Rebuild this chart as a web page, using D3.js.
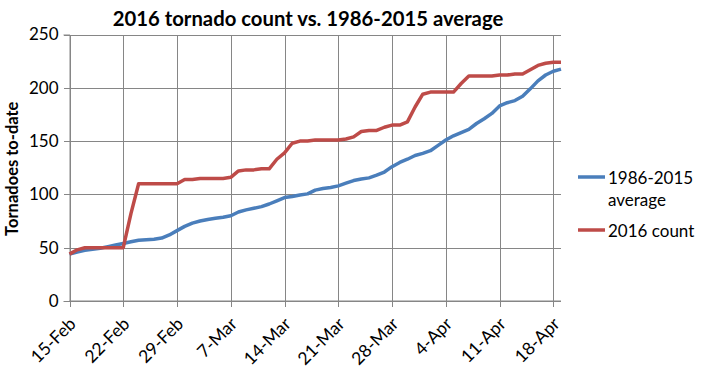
<!DOCTYPE html>
<html>
<head>
<meta charset="utf-8">
<script src="https://cdn.jsdelivr.net/npm/d3@7/dist/d3.min.js"></script>
<style>
  html, body { margin: 0; padding: 0; background: #fff; }
  svg { display: block; }
  text { font-family: Lato, "Open Sans", sans-serif; fill: #000; }
</style>
</head>
<body>
<svg id="chart" width="703" height="379"></svg>
<script>
// ---- data ----
const firstDay = "2016-02-15";
const lastDay = "2016-04-19";
const average = [44, 46, 47.5, 48.5, 49.5, 51, 52.5, 54, 55.5, 57,
  57.5, 58, 59, 62, 66, 70, 73, 75, 76.5, 77.6,
  78.5, 80, 83.5, 85.5, 87, 88.5, 91, 94, 97, 98,
  99.5, 100.5, 104, 105.5, 106.5, 108, 110.5, 113, 114.5, 115.5,
  118, 121, 126, 130, 133, 136.5, 138.5, 141, 146, 151,
  155, 158, 161, 166.5, 171, 176, 183, 186, 188, 192,
  199, 206.5, 212, 215.5, 217.5];
const count2016 = [44, 48, 50, 50, 50, 50, 50, 50, 82, 110,
  110, 110, 110, 110, 110, 114, 114, 115, 115, 115,
  115, 116, 122, 123, 123, 124, 124, 133, 139, 148,
  150, 150, 151, 151, 151, 151, 152, 154, 159, 160,
  160, 163, 165, 165, 168, 182, 194, 196, 196, 196,
  196, 204, 211, 211, 211, 211, 212, 212, 213, 213,
  217, 221, 223, 224, 224];
const tickDates = ["2016-02-15", "2016-02-22", "2016-02-29", "2016-03-07", "2016-03-14",
  "2016-03-21", "2016-03-28", "2016-04-04", "2016-04-11", "2016-04-18"];
const tickLabels = ["15-Feb", "22-Feb", "29-Feb", "7-Mar", "14-Mar", "21-Mar", "28-Mar", "4-Apr", "11-Apr", "18-Apr"];
const yTicks = [0, 50, 100, 150, 200, 250];
const seriesNames = ["1986-2015 average", "2016 count"];
const seriesColors = ["#4A7EBB", "#BE4B48"];
const titleText = "2016 tornado count vs. 1986-2015 average";
const yTitle = "Tornadoes to-date";

// ---- chart ----
const parse = d3.utcParse("%Y-%m-%d");
const days = d3.utcDay.range(parse(firstDay), d3.utcDay.offset(parse(lastDay), 1));

const svg = d3.select("#chart");
const x = d3.scaleUtc().domain([parse(firstDay), parse(lastDay)]).range([69.5, 561]);
const y = d3.scaleLinear().domain([0, 250]).range([301, 34.5]);
const grid = "#868686";

// horizontal gridlines + y axis
const yAxis = d3.axisLeft(y).tickValues(yTicks).tickSize(6).tickPadding(5);
const gy = svg.append("g").attr("transform", `translate(${x.range()[0]},0)`).call(yAxis);
gy.select(".domain").attr("stroke", grid);
gy.selectAll(".tick line").attr("stroke", grid);
gy.selectAll(".tick text").style("font-size", "17px").attr("fill", "#000");
gy.selectAll(".tick").append("line")
  .attr("x1", 0).attr("x2", x.range()[1] - x.range()[0])
  .attr("stroke", grid).attr("shape-rendering", "crispEdges");
gy.selectAll("line").attr("shape-rendering", "crispEdges");

// vertical gridlines + x axis
const xAxis = d3.axisBottom(x).tickValues(tickDates.map(parse)).tickSize(6)
  .tickFormat((d, i) => tickLabels[i]);
const gx = svg.append("g").attr("transform", `translate(0,${y(0)})`).call(xAxis);
gx.select(".domain").attr("stroke", grid).attr("d", `M${x.range()[0]},0H${x.range()[1]}`);
gx.selectAll(".tick line").attr("stroke", grid);
gx.selectAll(".tick").append("line")
  .attr("y1", 0).attr("y2", y(250) - y(0))
  .attr("stroke", grid);
gx.selectAll("line").attr("shape-rendering", "crispEdges");
gx.selectAll(".tick text")
  .style("font-size", "17.5px")
  .attr("fill", "#000")
  .attr("text-anchor", "end")
  .attr("dy", null)
  .attr("y", 0)
  .attr("transform", "translate(7,24) rotate(-45)");

// lines
const line = d3.line().x((d, i) => x(days[i])).y(d => y(d));
[average, count2016].forEach((s, k) => {
  svg.append("path").datum(s)
    .attr("fill", "none")
    .attr("stroke", seriesColors[k])
    .attr("stroke-width", 3.5)
    .attr("stroke-linejoin", "round")
    .attr("d", line);
});

// title
svg.append("text").attr("x", 308).attr("y", 26)
  .attr("text-anchor", "middle")
  .style("font-size", "20.3px").style("font-weight", "bold")
  .text(titleText);

// y title
svg.append("text")
  .attr("transform", `translate(18,${(y(0) + y(250)) / 2 + 1}) rotate(-90)`)
  .attr("text-anchor", "middle")
  .style("font-size", "16.5px").style("font-weight", "bold")
  .text(yTitle);

// legend
const legend = svg.append("g");
const legendRows = [{ y: 177, lines: ["1986-2015", "average"] }, { y: 230, lines: ["2016 count"] }];
legendRows.forEach((r, k) => {
  legend.append("line").attr("x1", 578).attr("x2", 605).attr("y1", r.y).attr("y2", r.y)
    .attr("stroke", seriesColors[k]).attr("stroke-width", 3.5);
  r.lines.forEach((t, j) => {
    legend.append("text").attr("x", 608).attr("y", r.y + 7 + j * 22)
      .style("font-size", "17px").text(t);
  });
});
</script>
</body>
</html>
